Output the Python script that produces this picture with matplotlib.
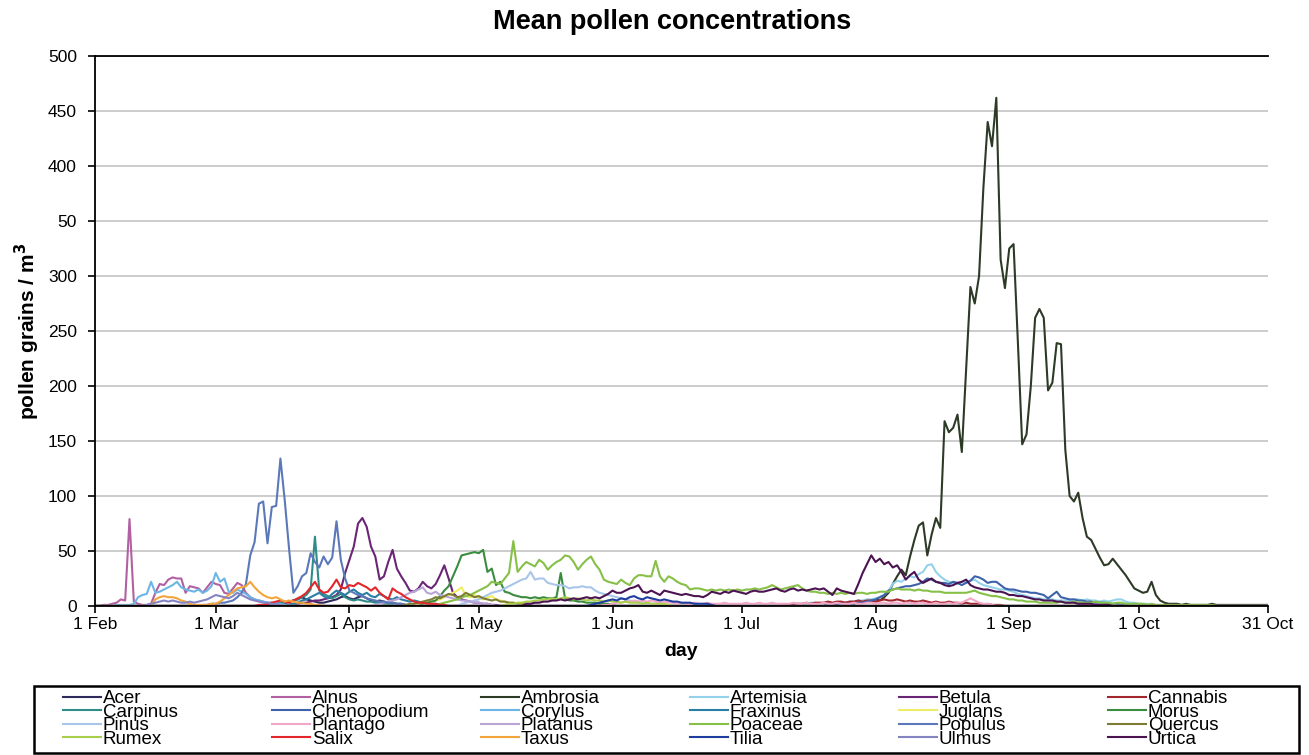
import numpy as np
import pandas as pd
import matplotlib
matplotlib.use('Agg')
import matplotlib.pyplot as plt
from matplotlib.lines import Line2D
from matplotlib.patches import Rectangle

plt.rcParams['font.family'] = ['Liberation Sans', 'DejaVu Sans']

days = pd.date_range('2010-02-01', '2010-10-31', freq='D')

# each taxon: day offset (from 1 Feb) of first listed value, then daily values; zero elsewhere
acer_start = 42
acer = [1, 2, 3, 4, 5, 6, 8, 6, 5, 4, 3, 3, 4, 5, 6, 8, 9, 7, 6, 8,
        9, 7, 5, 4, 5, 4, 3, 3, 2, 2, 1]
alnus_start = 0
alnus = [0, 0, 1, 1, 2, 3, 6, 5, 79, 4, 2, 1, 1, 2, 12, 20, 19, 24, 26, 25,
         25, 12, 18, 17, 16, 12, 17, 22, 20, 19, 12, 11, 16, 21, 19, 12, 8, 6, 5, 4,
         3, 3, 2, 2, 1]
ambrosia_start = 170
ambrosia = [2, 2, 3, 2, 3, 3,
            3, 4, 3, 5, 4, 6, 5, 8, 12, 20,
            27, 33, 28, 45, 60, 73, 76, 46, 65, 80,
            71, 168, 158, 162, 174, 140, 215, 290, 275, 300,
            380, 440, 418, 462, 315, 289, 325, 329, 240, 147,
            156, 200, 262, 270, 262, 196, 203, 239, 238, 142,
            100, 95, 103, 80, 63, 60, 52, 44, 37, 38,
            43, 38, 33, 28, 22, 16, 14, 12, 13, 22,
            10, 5, 3, 2, 2, 2, 1, 2, 1, 1,
            1, 1, 1, 2, 1, 1, 1, 1, 1, 1, 1, 1, 1, 1, 1, 1, 1]
artemisia_start = 160
artemisia = [1, 1, 2, 2, 2, 2, 3, 3, 2, 3,
             2, 2, 3, 3, 3, 4, 4, 5, 5, 6,
             6, 7, 8, 10, 14, 20, 23, 22, 25, 27,
             26, 29, 31, 37, 38, 31, 27, 24, 22, 21,
             20, 22, 22, 23, 24, 21, 19, 18, 17, 16,
             15, 15, 14, 13, 11, 10, 9, 8, 7, 7,
             6, 6, 6, 5, 5, 5, 5, 6, 6, 5,
             6, 5, 5, 4, 5, 4, 5, 6, 6, 4,
             3, 3, 2, 2, 2, 1, 1, 1]
betula_start = 40
betula = [1, 1, 1, 2, 2, 1, 2, 2, 3, 3,
          4, 5, 5, 6, 7, 8, 10, 15, 30, 42,
          54, 75, 80, 72, 54, 45, 24, 27, 40, 51,
          34, 27, 21, 14, 13, 16, 22, 18, 16, 20,
          28, 37, 25, 12, 8, 6, 5, 4, 3, 3,
          2, 2, 1, 1]
cannabis_start = 160
cannabis = [1, 1, 2, 2, 2, 3, 2, 3, 3, 3, 4, 3, 4, 4, 3, 4, 4, 5, 4, 5,
            5, 4, 5, 6, 5, 5, 6, 5, 4, 5, 4, 4, 5, 4, 3, 4, 3, 3, 4, 3,
            3, 2, 3, 2, 2, 2, 1, 2, 1, 1, 1]
carpinus_start = 40
carpinus = [1, 2, 2, 3, 3, 4, 5, 6, 8, 10, 15, 63, 14, 11, 9, 7, 9, 11, 8, 6,
            5, 6, 5, 4, 4, 3, 3, 2, 2, 1]
chenopodium_start = 170
chenopodium = [1, 1, 1, 2, 2, 2, 2, 3, 3, 4,
               5, 6, 8, 10, 14, 15, 16, 17, 18, 18,
               19, 20, 22, 25, 24, 22, 21, 21, 20, 22,
               21, 19, 21, 23, 27, 26, 24, 21, 22, 22,
               19, 16, 15, 15, 14, 13, 13, 12, 12, 11,
               10, 7, 10, 13, 8, 7, 6, 6, 5, 5,
               4, 4, 3, 3, 3, 2, 2, 2, 1, 1]
corylus_start = 0
corylus = [0, 0, 0, 0, 0, 1, 1, 1, 1, 2, 8, 10, 11, 22, 12, 13, 15, 17, 19, 22,
           17, 15, 14, 13, 15, 12, 14, 18, 30, 22, 25, 13, 12, 15, 13, 11, 8, 6, 5, 4,
           3, 3, 2, 2, 1, 1]
fraxinus_start = 45
fraxinus = [1, 2, 3, 5, 6, 8, 10, 12, 9, 7, 11, 14, 12, 10, 13, 15, 12, 10, 12, 9,
            8, 11, 9, 7, 6, 8, 6, 5, 4, 5, 4, 3, 3, 2, 2, 1]
juglans_start = 75
juglans = [1, 2, 3, 4, 5, 6, 8, 10, 12, 14, 17, 9, 8, 10, 7, 6, 8, 9, 6, 5,
           4, 3, 3, 2, 2, 1]
morus_start = 76
morus = [2, 3, 4, 5, 9, 14, 18, 27, 36, 46, 47, 48, 49, 48, 51, 31, 34, 19, 22, 13,
         12, 10, 9, 8, 8, 7, 8, 7, 8, 7, 7, 8, 30, 7, 5, 5, 4, 4, 3, 3,
         3, 2, 2, 2, 1]
pinus_start = 85
pinus = [2, 3, 4, 5, 6, 8, 10, 12, 13, 14, 16, 18, 20, 22, 24, 25, 31, 24, 25, 25,
         21, 20, 19, 19, 18, 16, 17, 17, 18, 17, 17, 14, 12, 11, 10, 9, 8, 7, 6, 5,
         4, 4, 3, 3, 2, 2, 1]
plantago_start = 118
plantago = [1, 1,
            2, 3, 3, 4, 4, 5, 4, 5, 4, 5,
            4, 3, 4, 3, 3, 2, 3, 2, 2, 3,
            2, 2, 3, 2, 2, 2, 3, 2, 2, 2,
            2, 3, 2, 2, 3, 2, 2, 3, 2, 2,
            2, 2, 3, 2, 2, 3, 2, 2, 2, 3,
            2, 2, 3, 2, 2, 2, 3, 2, 2, 3,
            3, 2, 3, 3, 2, 3, 3, 2, 3, 3,
            2, 3, 3, 2, 2, 3, 2, 2, 3, 2,
            3, 3, 5, 7, 5, 3, 2, 2, 1]
platanus_start = 65
platanus = [1, 2, 3, 4, 5, 6, 8, 10, 12, 13, 15, 17, 12, 11, 13, 10, 9, 8, 7, 6,
            5, 5, 4, 3, 3, 2, 2, 1]
poaceae_start = 80
poaceae = [2, 3, 4, 5, 6, 8, 9, 10, 12, 14,
           16, 18, 22, 21, 20, 25, 30, 59, 31, 36,
           40, 38, 36, 42, 39, 33, 37, 40, 42, 46,
           45, 40, 33, 38, 42, 45, 38, 33, 24, 22,
           21, 20, 24, 21, 19, 25, 28, 28, 27, 27,
           41, 27, 22, 27, 25, 22, 20, 19, 15, 16,
           16, 15, 14, 15, 14, 15, 14, 15, 14, 15,
           14, 15, 15, 16, 15, 16, 17, 19, 17, 15,
           16, 17, 18, 19, 16, 14, 13, 13, 12, 12,
           11, 12, 11, 12, 11, 12, 11, 12, 12, 11,
           12, 12, 13, 13, 13, 15, 16, 15, 15, 15,
           14, 15, 14, 14, 13, 13, 13, 12, 12, 12,
           12, 12, 12, 13, 14, 12, 11, 10, 9, 9,
           8, 7, 6, 6, 5, 5, 4, 4, 4, 3,
           3, 3, 3, 3, 4, 3, 3, 4, 3, 3,
           3, 3, 4, 3, 3, 3, 2, 3, 3, 2,
           2, 2, 2, 2, 1, 2, 1, 1, 1, 1,
           1, 1, 1, 1, 1, 1, 1, 1, 1, 1]
populus_start = 25
populus = [1, 1, 2, 2, 3, 3, 4, 5, 8, 12, 20, 46, 58, 93, 95, 57, 90, 91, 134, 96,
           52, 12, 18, 27, 30, 48, 40, 35, 45, 38, 44, 77, 42, 25, 14, 12, 10, 9, 7, 6,
           5, 4, 4, 3, 3, 2, 2, 1]
quercus_start = 72
quercus = [1, 2, 2, 3, 4, 5, 6, 8, 7, 9, 11, 10, 8, 9, 12, 10, 8, 9, 7, 6,
           5, 6, 4, 4, 3, 3, 2, 2, 1]
rumex_start = 95
rumex = [1, 2, 2, 3, 3, 4, 4, 5, 5, 6, 6, 7, 6, 7, 8, 7, 6, 7, 6, 5,
         6, 5, 5, 4, 5, 4, 4, 3, 4, 3, 3, 3, 2, 3, 2, 2, 2, 2, 1]
salix_start = 38
salix = [1, 1, 2, 3, 4, 5, 4, 3, 5, 7, 9, 12, 17, 22, 15, 12, 13, 18, 24, 17,
         16, 19, 18, 21, 19, 17, 14, 17, 12, 9, 6, 16, 13, 11, 8, 6, 4, 3, 3, 2,
         2, 2, 1, 1]
taxus_start = 0
taxus = [0, 0, 0, 0, 0, 0, 0, 0, 0, 0, 0, 0, 0, 1, 6, 8, 9, 8, 8, 7,
         5, 4, 2, 1, 1, 1, 1, 2, 2, 4, 7, 10, 13, 16, 17, 18, 22, 17, 13, 10,
         8, 7, 8, 6, 4, 5, 4, 3, 3, 2, 2, 1, 1]
tilia_start = 115
tilia = [1, 2, 3, 4, 5, 6, 5, 7, 6, 8, 9, 7, 6, 8, 7, 6, 5, 6, 5, 4,
         4, 3, 3, 3, 2, 2, 2, 2, 1]
ulmus_start = 12
ulmus = [1, 2, 3, 4, 5, 4, 5, 4, 3, 3, 4, 3, 4, 5, 6, 8, 10, 9, 8, 7,
         9, 12, 10, 8, 6, 5, 4, 3, 3, 2, 2, 1]
urtica_start = 100
urtica = [2, 2, 3, 3, 4, 4, 5, 5, 6, 5,
          6, 7, 6, 7, 8, 7, 8, 7, 9, 11,
          14, 12, 12, 14, 16, 17, 19, 13, 12, 14,
          12, 10, 14, 13, 12, 11, 10, 11, 10, 9,
          9, 8, 10, 13, 12, 11, 13, 12, 14, 13,
          12, 11, 13, 14, 13, 13, 14, 15, 16, 14,
          13, 15, 16, 14, 15, 14, 15, 16, 15, 16,
          13, 10, 16, 14, 13, 12, 11, 20, 30, 38,
          46, 40, 43, 38, 40, 35, 37, 31, 24, 28,
          31, 24, 21, 23, 25, 22, 21, 19, 18, 19,
          21, 22, 24, 19, 17, 16, 15, 15, 14, 13,
          13, 12, 10, 10, 9, 9, 8, 7, 6, 6,
          5, 5, 5, 4, 4, 3, 3, 3, 2, 2,
          2, 2, 1, 1, 1, 1]

names = ['Acer', 'Alnus', 'Ambrosia', 'Artemisia', 'Betula', 'Cannabis',
         'Carpinus', 'Chenopodium', 'Corylus', 'Fraxinus', 'Juglans', 'Morus',
         'Pinus', 'Plantago', 'Platanus', 'Poaceae', 'Populus', 'Quercus',
         'Rumex', 'Salix', 'Taxus', 'Tilia', 'Ulmus', 'Urtica']
starts = [acer_start, alnus_start, ambrosia_start, artemisia_start, betula_start, cannabis_start,
          carpinus_start, chenopodium_start, corylus_start, fraxinus_start, juglans_start, morus_start,
          pinus_start, plantago_start, platanus_start, poaceae_start, populus_start, quercus_start,
          rumex_start, salix_start, taxus_start, tilia_start, ulmus_start, urtica_start]
values = [acer, alnus, ambrosia, artemisia, betula, cannabis,
          carpinus, chenopodium, corylus, fraxinus, juglans, morus,
          pinus, plantago, platanus, poaceae, populus, quercus,
          rumex, salix, taxus, tilia, ulmus, urtica]
colors = ['#2e2a5c', '#b160a2', '#2c3a26', '#93d2ea', '#6b2577', '#a3262e',
          '#2f8c88', '#3e62aa', '#6bb6e6', '#2a7ea3', '#eeee66', '#3a8c3e',
          '#a9c6ea', '#f2a6c8', '#b9a4d6', '#86c046', '#5b78b9', '#7d7c35',
          '#a9cf4a', '#e4262a', '#f3a43a', '#1f3d9e', '#8584c3', '#4b1352']

tick_dates = ['2010-02-01', '2010-03-01', '2010-04-01', '2010-05-01', '2010-06-01',
              '2010-07-01', '2010-08-01', '2010-09-01', '2010-10-01', '2010-10-31']
tick_labels = ['1 Feb', '1 Mar', '1 Apr', '1 May', '1 Jun', '1 Jul', '1 Aug',
               '1 Sep', '1 Oct', '31 Oct']
ytick_vals = [0, 50, 100, 150, 200, 250, 300, 350, 400, 450, 500]
ytick_labels = ['0', '50', '100', '150', '200', '250', '300', '50', '400', '450', '500']

W, H = 1309, 755
fig = plt.figure(figsize=(W / 100, H / 100), dpi=100)
ax = fig.add_axes([95 / W, 1 - 606 / H, (1268 - 95) / W, (606 - 56) / H])

handles = []
for name, st, vals, col in zip(names, starts, values, colors):
    y = np.zeros(len(days))
    y[st:st + len(vals)] = vals
    line, = ax.plot(days, y, color=col, lw=1.5, label=name)
    handles.append(line)

ax.set_xlim(days[0], days[-1])
ax.set_ylim(0, 500)
ax.set_xticks(pd.to_datetime(tick_dates))
ax.set_xticklabels(tick_labels)
ax.set_yticks(ytick_vals)
ax.set_yticklabels(ytick_labels)
ax.tick_params(labelsize=12.5, length=5, width=1.2, direction='out', colors='black')
ax.tick_params(axis='x', pad=3)
ax.tick_params(axis='y', pad=8)
ax.yaxis.grid(True, color='#c8c8c8', lw=1.3)
ax.set_axisbelow(True)
ax.spines['right'].set_visible(False)
for s in ['left', 'bottom', 'top']:
    ax.spines[s].set_linewidth(1.3)

ax.set_xlabel('day', fontsize=14, fontweight='bold', labelpad=8)
ax.set_ylabel('pollen grains / m$^\\mathbf{3}$', fontsize=15, fontweight='bold', labelpad=4)
fig.text(672 / W, 1 - 22 / H, 'Mean pollen concentrations', fontsize=19.5,
         fontweight='bold', ha='center', va='center')

# legend box, entries filled row by row in 6 columns
fig.add_artist(Rectangle((34 / W, 1 - 753 / H), (1299 - 34) / W, (753 - 686) / H,
                         transform=fig.transFigure, fill=False, ec='black', lw=1.8))
col_x = [63, 272, 481, 690, 899, 1108]
for c in range(6):
    hs = [Line2D([], [], color=handles[r * 6 + c].get_color(), lw=1.5) for r in range(4)]
    ls = [names[r * 6 + c] for r in range(4)]
    fig.legend(hs, ls, loc='upper left', bbox_to_anchor=(col_x[c] / W, 1 - 690 / H),
               frameon=False, fontsize=13.5, handlelength=2.0, handletextpad=0.12,
               labelspacing=-0.19, borderpad=0, borderaxespad=0)

fig.savefig('out.png', dpi=100)
